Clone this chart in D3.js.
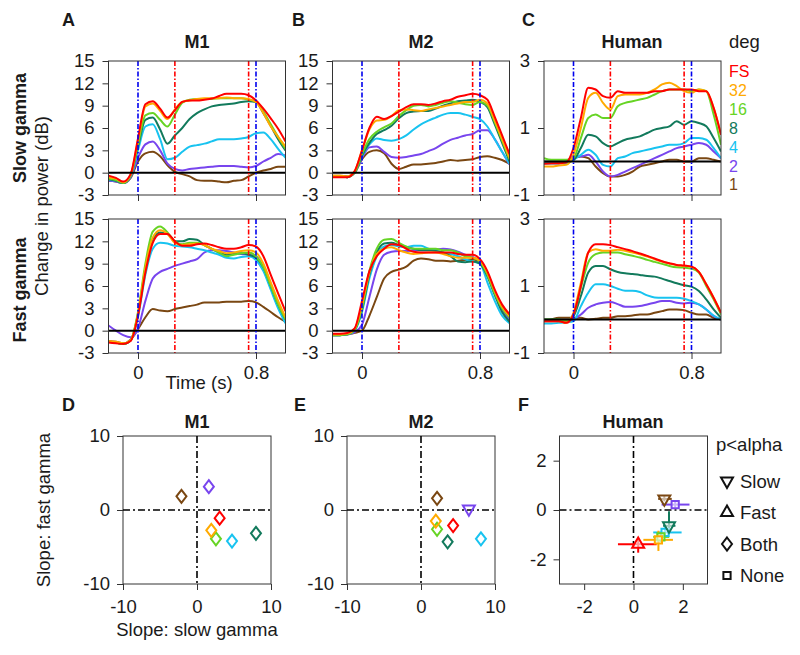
<!DOCTYPE html>
<html>
<head>
<meta charset="utf-8">
<script src="https://cdn.jsdelivr.net/npm/d3@7"></script>
<style>
  body { margin: 0; background: #fff; }
  svg text { font-family: "Liberation Sans", Arial, Helvetica, sans-serif; fill: #1a1a1a; }
</style>
</head>
<body>
<svg id="fig" width="800" height="655"></svg>
<script>
// time base (s) shared by every trace
var time = [-0.2,-0.15,-0.1,-0.05,0,0.05,0.1,0.15,0.2,0.25,0.3,0.35,0.4,0.45,0.5,0.55,0.6,0.65,0.7,0.75,0.8,0.85,0.9,0.95,1.0];

var degLabels = ["FS", "32", "16", "8", "4", "2", "1"];
var degColors = ["#ff0000", "#ffaa00", "#66d424", "#127a5c", "#18c3f0", "#7845ee", "#7a4712"];

// stimulus on/off (blue) and analysis window (red)
var eventTimes = [0, 0.25, 0.75, 0.8];
var eventColors = ["#0000ee", "#ff0000", "#ff0000", "#0000ee"];

var dbTicks = [-3, 0, 3, 6, 9, 12, 15];
var humanTicks = [-1, 1, 3];

// change in power, one row per size (FS,32,16,8,4,2,1)
var m1Slow = [
  [-0.4,-0.7,-1.2,-0.2,4.6,9.2,9.6,8.6,7.4,8.4,9.5,9.7,9.7,9.8,9.95,10.3,10.6,10.6,10.6,10.4,9.7,8.6,7.3,5.9,4.2],
  [-0.6,-0.8,-1.3,-0.3,4.3,8.9,9.3,8.3,7.2,8.5,9.5,9.7,9.9,10.0,10.0,10.0,10.1,10.0,10.0,9.9,9.5,8.0,6.2,4.8,3.5],
  [-0.8,-1.0,-1.4,-0.4,3.8,7.7,8.0,7.1,6.2,7.8,9.4,9.8,9.9,9.9,9.9,10.0,10.0,10.0,10.0,9.8,9.5,8.2,6.5,4.8,3.2],
  [-0.9,-1.1,-1.4,-0.4,3.5,7.1,7.4,5.8,3.9,5.0,6.0,7.2,8.0,8.5,8.9,9.1,9.2,9.3,9.5,9.6,9.5,8.0,6.3,4.5,3.0],
  [-1.0,-1.1,-1.4,-0.5,3.0,6.2,6.5,4.5,1.8,2.0,2.8,3.5,3.7,3.9,4.2,4.5,4.5,4.5,4.6,4.8,5.3,5.4,4.5,3.2,2.0],
  [-1.1,-1.2,-1.4,-0.6,2.0,3.8,4.2,3.0,1.2,0.5,0.3,0.5,0.6,0.7,0.8,0.9,0.9,0.9,0.8,0.7,0.9,1.5,2.0,2.5,2.3],
  [-1.1,-1.2,-1.4,-0.7,1.5,2.6,2.8,2.2,1.0,0.1,-0.2,-0.5,-1.0,-1.1,-1.1,-1.2,-1.3,-1.1,-1.0,-0.5,0.0,0.3,0.5,0.8,0.8]
];
var m1Fast = [
  [-1.6,-1.7,-1.8,-1.4,2.0,7.8,11.8,13.0,13.0,12.0,11.4,11.4,11.6,11.7,11.5,11.2,11.0,11.0,11.2,11.5,11.3,10.0,7.5,5.0,2.6],
  [-1.4,-1.5,-1.7,-1.3,2.3,8.5,12.5,13.5,13.0,11.8,11.5,11.6,11.7,11.5,11.0,10.7,10.4,10.5,10.7,10.8,10.5,9.0,6.5,4.0,1.8],
  [-1.5,-1.6,-1.8,-1.3,2.5,9.0,13.3,14.0,13.2,12.0,11.6,11.8,11.8,11.5,11.0,10.5,10.0,10.2,10.4,10.5,10.0,8.5,6.0,3.5,1.5],
  [-1.5,-1.6,-1.8,-1.3,2.2,8.3,12.3,13.2,13.0,12.0,12.0,12.3,12.2,11.5,11.0,10.5,10.2,10.3,10.4,10.2,9.8,8.5,6.0,3.5,1.5],
  [-1.5,-1.6,-1.8,-1.3,1.8,7.5,11.0,11.8,11.7,11.4,11.3,11.2,11.0,10.8,10.5,10.2,9.8,9.7,9.9,10.0,9.5,8.0,5.5,3.0,1.0],
  [0.7,0.0,-0.6,-0.9,0.3,4.0,7.0,7.9,8.3,8.7,9.0,9.3,9.6,10.5,10.8,10.8,10.7,10.5,10.3,10.2,10.0,8.5,6.0,3.5,1.2],
  [-1.4,-1.5,-1.7,-1.2,0.2,1.8,2.9,2.7,2.6,2.9,3.1,3.3,3.5,3.8,3.8,3.8,3.9,3.9,3.9,4.0,3.8,3.2,2.5,1.8,1.2]
];
var m2Slow = [
  [-0.6,-0.6,-0.6,0.2,3.0,6.0,7.5,7.2,7.6,8.2,8.8,9.2,9.2,9.1,9.3,9.6,9.8,10.2,10.4,10.6,10.4,9.8,7.5,5.0,2.5],
  [-0.4,-0.4,-0.5,0.2,3.0,5.8,7.0,7.1,7.6,8.4,8.5,8.4,8.3,8.5,8.7,8.9,9.1,9.3,9.5,9.5,9.8,9.3,7.0,4.5,2.0],
  [-0.5,-0.5,-0.6,0.0,2.5,4.5,5.5,6.1,6.6,7.6,8.4,9.0,9.1,8.9,9.1,9.4,9.6,9.4,9.2,9.1,9.5,9.0,6.8,4.3,1.8],
  [-0.5,-0.5,-0.6,0.0,2.3,4.0,5.2,5.7,6.3,7.3,8.0,8.2,8.3,8.3,8.6,9.0,9.3,9.6,9.7,9.8,9.5,8.8,6.5,4.0,1.5],
  [-0.5,-0.5,-0.6,0.0,2.2,3.8,4.6,4.4,4.3,4.5,5.0,5.8,6.5,7.0,7.4,7.8,8.0,8.0,7.8,7.5,7.2,6.2,4.5,2.8,1.2],
  [-0.5,-0.5,-0.6,0.0,2.0,3.4,3.5,2.8,2.1,2.0,2.1,2.3,2.5,2.9,3.3,3.9,4.4,4.7,5.0,5.2,5.7,5.7,4.5,2.8,1.1],
  [-0.4,-0.4,-0.5,0.0,1.8,2.8,3.0,2.6,1.2,0.5,0.8,1.1,1.1,1.2,1.3,1.5,1.7,1.6,1.7,1.8,2.1,2.2,2.0,1.7,1.2]
];
var m2Fast = [
  [-0.4,-0.4,-0.3,0.3,4.0,8.0,10.0,11.0,11.6,11.5,11.0,10.6,10.5,10.5,10.5,10.5,10.5,10.3,10.2,10.2,9.6,8.0,5.5,3.5,2.2],
  [-0.5,-0.5,-0.4,0.2,3.5,7.8,10.3,11.0,11.2,10.8,10.5,10.3,10.4,10.5,10.5,10.3,10.0,9.8,9.8,9.8,9.4,7.8,5.3,3.2,2.0],
  [-0.6,-0.6,-0.5,0.1,3.0,8.0,11.0,12.2,12.3,11.8,11.3,11.0,11.0,11.0,11.0,10.8,10.8,10.5,10.0,9.8,9.3,7.5,5.0,3.0,1.8],
  [-0.6,-0.6,-0.5,0.1,2.8,7.5,10.5,11.7,11.8,11.5,11.2,11.0,10.8,10.8,10.7,10.5,10.0,9.3,9.2,9.3,9.0,7.3,4.8,2.5,1.2],
  [-0.6,-0.6,-0.5,0.0,2.5,7.0,10.0,11.3,11.5,11.3,11.2,11.4,11.4,11.0,10.8,10.5,10.3,10.0,9.6,9.3,9.0,6.5,4.0,2.0,1.0],
  [-0.6,-0.6,-0.5,-0.2,0.8,4.5,8.2,10.2,10.6,10.7,10.7,10.8,10.8,10.8,10.9,11.0,10.9,10.6,10.2,9.9,9.3,7.5,5.0,2.8,1.5],
  [-0.5,-0.5,-0.5,-0.3,0.0,2.0,4.5,7.0,7.9,8.2,8.6,9.4,9.7,9.6,9.4,9.4,9.3,9.4,9.5,9.6,9.2,7.5,5.0,3.0,1.5]
];
var humanSlow = [
  [-0.07,-0.05,-0.05,-0.03,0.4,1.3,2.2,2.15,1.95,1.9,2.1,2.05,2.05,2.05,2.05,2.1,2.1,2.15,2.15,2.15,2.15,2.1,2.1,1.6,0.8],
  [-0.15,-0.15,-0.12,-0.1,0.2,1.0,1.9,2.05,1.75,1.55,1.95,2.0,2.0,2.0,2.05,2.15,2.3,2.35,2.25,2.1,2.05,2.15,2.1,1.6,0.8],
  [0.1,0.05,0.05,0.05,0.1,0.7,1.3,1.4,1.3,1.3,1.65,1.75,1.8,1.85,1.9,2.0,2.1,2.15,2.15,2.15,2.1,2.15,2.1,1.4,0.5],
  [0.0,0.0,0.0,0.0,0.05,0.4,0.8,0.75,0.55,0.45,0.55,0.65,0.7,0.75,0.85,0.95,1.0,1.05,1.2,1.1,1.2,1.15,1.05,0.7,0.3],
  [-0.05,-0.05,-0.05,-0.05,0.05,0.2,0.35,0.2,-0.1,-0.15,0.1,0.15,0.25,0.3,0.35,0.4,0.45,0.5,0.5,0.55,0.7,0.7,0.65,0.4,0.1],
  [-0.05,-0.05,-0.05,0.0,0.15,0.15,0.2,0.0,-0.3,-0.45,-0.4,-0.3,-0.2,-0.1,0.0,0.1,0.2,0.3,0.4,0.45,0.5,0.55,0.5,0.3,0.1],
  [-0.05,-0.05,-0.05,0.0,0.1,0.15,0.1,-0.15,-0.35,-0.45,-0.45,-0.4,-0.3,-0.15,-0.1,-0.05,0.0,0.05,0.05,0.0,0.0,0.1,0.1,0.05,0.0]
];
var humanFast = [
  [-0.05,-0.05,-0.05,-0.1,0.15,1.0,2.0,2.25,2.25,2.22,2.16,2.1,2.04,1.97,1.9,1.82,1.74,1.68,1.63,1.61,1.58,1.42,1.05,0.65,0.2],
  [-0.05,-0.05,-0.05,-0.1,0.2,1.1,2.0,2.1,2.05,2.05,2.08,2.05,2.0,1.95,1.88,1.8,1.73,1.67,1.62,1.6,1.57,1.42,1.05,0.65,0.2],
  [0.0,0.0,0.0,-0.05,0.15,0.95,1.7,1.95,2.0,2.0,2.0,1.95,1.9,1.85,1.78,1.72,1.66,1.6,1.56,1.55,1.52,1.4,1.0,0.6,0.15],
  [0.0,0.0,0.0,-0.05,0.1,0.7,1.4,1.6,1.6,1.5,1.42,1.38,1.36,1.33,1.3,1.28,1.22,1.15,1.08,1.02,0.98,0.85,0.6,0.3,0.05],
  [-0.12,-0.12,-0.1,-0.08,-0.05,0.4,0.8,1.05,1.05,1.0,0.92,0.86,0.86,0.82,0.72,0.66,0.65,0.65,0.65,0.62,0.55,0.45,0.3,0.12,0.0],
  [-0.05,-0.05,-0.05,-0.05,0.0,0.15,0.35,0.45,0.5,0.52,0.46,0.38,0.38,0.4,0.45,0.5,0.55,0.55,0.5,0.48,0.5,0.45,0.3,0.1,0.0],
  [-0.05,0.0,0.05,0.05,0.05,0.05,0.0,0.02,0.05,0.05,0.1,0.1,0.12,0.15,0.15,0.2,0.25,0.3,0.3,0.28,0.2,0.15,0.15,0.05,0.0]
];

// slopes (FS,32,16,8,4,2,1)
var m1SlopeSlow = [3.06, 1.93, 2.56, 7.97, 4.73, 1.6, -2.1];
var m1SlopeFast = [-1.1, -2.75, -3.9, -3.15, -4.2, 3.15, 1.85];
var m1Sig = ["both", "both", "both", "both", "both", "both", "both"];
var m2SlopeSlow = [4.34, 2.0, 2.17, 3.6, 8.1, 6.47, 2.17];
var m2SlopeFast = [-2.1, -1.5, -2.6, -4.3, -3.9, 0.15, 1.58];
var m2Sig = ["both", "both", "both", "both", "both", "slow", "both"];
var humanSlopeSlow = [0.19, 1.01, 1.11, 1.44, 1.28, 1.69, 1.25];
var humanSlopeFast = [-1.39, -1.21, -1.09, -0.64, -0.91, 0.22, 0.45];
var humanSig = ["fast", "none", "none", "slow", "none", "none", "slow"];
var humanSlowLo = [-0.63, 0.4, 0.8, 1.2, 0.8, 1.14, 1.0];
var humanSlowHi = [0.94, 1.6, 1.45, 1.7, 1.95, 2.27, 1.55];
var humanFastLo = [-1.73, -1.66, -1.3, -0.8, -1.1, 0.1, 0.35];
var humanFastHi = [-1.17, -0.84, -0.9, -0.05, -0.7, 0.35, 0.6];

var sigKeys = ["slow", "fast", "both", "none"];
var sigNames = ["Slow", "Fast", "Both", "None"];

var svg = d3.select("#fig");
var clipCount = 0;
var fontSize = 18.5;

function numFmt(d) { return String(d); }

function styleAxis(ax) {
  ax.select(".domain").remove();
  ax.selectAll(".tick line").attr("stroke", "#333").attr("stroke-width", 1);
  ax.selectAll(".tick text").style("font-size", fontSize + "px").attr("fill", "#1a1a1a");
}

function timePanel(left, top, yDomain, yTicks, series, showX) {
  var w = 177, h = 134;
  var x = d3.scaleLinear().domain([-0.2, 1.0]).range([left, left + w]);
  var y = d3.scaleLinear().domain(yDomain).range([top + h, top]);
  var clipId = "clip" + (clipCount++);
  svg.append("clipPath").attr("id", clipId)
    .append("rect").attr("x", left).attr("y", top).attr("width", w).attr("height", h);

  var ya = svg.append("g").attr("transform", "translate(" + left + ",0)")
    .call(d3.axisLeft(y).tickValues(yTicks).tickSize(6).tickPadding(8).tickFormat(numFmt));
  styleAxis(ya);
  var xa = svg.append("g").attr("transform", "translate(0," + (top + h) + ")")
    .call(d3.axisBottom(x).tickValues([0, 0.8]).tickSize(6).tickPadding(7)
      .tickFormat(showX ? numFmt : function() { return ""; }));
  styleAxis(xa);

  var line = d3.line()
    .x(function(d, i) { return x(time[i]); })
    .y(function(d) { return y(d); })
    .curve(d3.curveMonotoneX);

  var plot = svg.append("g").attr("clip-path", "url(#" + clipId + ")");
  plot.selectAll("path.trace")
    .data([6, 5, 4, 3, 2, 1, 0])
    .enter().append("path")
    .attr("class", "trace")
    .attr("d", function(k) { return line(series[k]); })
    .attr("fill", "none")
    .attr("stroke", function(k) { return degColors[k]; })
    .attr("stroke-width", 2);

  plot.append("line")
    .attr("x1", left).attr("x2", left + w)
    .attr("y1", y(0)).attr("y2", y(0))
    .attr("stroke", "#000").attr("stroke-width", 2);

  plot.selectAll("line.ev")
    .data(eventTimes)
    .enter().append("line")
    .attr("class", "ev")
    .attr("x1", function(d) { return x(d); }).attr("x2", function(d) { return x(d); })
    .attr("y1", top).attr("y2", top + h)
    .attr("stroke", function(d, i) { return eventColors[i]; })
    .attr("stroke-width", 1.6)
    .attr("stroke-dasharray", "5,2,1.5,2");

  svg.append("rect")
    .attr("x", left).attr("y", top).attr("width", w).attr("height", h)
    .attr("fill", "none").attr("stroke", "#333").attr("stroke-width", 1);
}

// marker shapes
var diamond = {
  draw: function(ctx, size) {
    var r = Math.sqrt(size) / 2;
    ctx.moveTo(0, -r * 1.3);
    ctx.lineTo(r, 0);
    ctx.lineTo(0, r * 1.3);
    ctx.lineTo(-r, 0);
    ctx.closePath();
  }
};
function markerPath(kind) {
  if (kind === "both") return d3.symbol().type(diamond).size(100)();
  if (kind === "none") return d3.symbol().type(d3.symbolSquare).size(52)();
  return d3.symbol().type(d3.symbolTriangle).size(62)();
}
function markerRot(kind) { return kind === "slow" ? " rotate(180)" : ""; }

function slopePanel(left, top, lim, ticks, sx, sy, sig, errs) {
  var s = 148;
  var x = d3.scaleLinear().domain([-lim, lim]).range([left, left + s]);
  var y = d3.scaleLinear().domain([-lim, lim]).range([top + s, top]);

  var ya = svg.append("g").attr("transform", "translate(" + left + ",0)")
    .call(d3.axisLeft(y).tickValues(ticks).tickSize(6).tickPadding(7).tickFormat(numFmt));
  styleAxis(ya);
  var xa = svg.append("g").attr("transform", "translate(0," + (top + s) + ")")
    .call(d3.axisBottom(x).tickValues(ticks).tickSize(6).tickPadding(10).tickFormat(numFmt));
  styleAxis(xa);

  svg.append("rect")
    .attr("x", left).attr("y", top).attr("width", s).attr("height", s)
    .attr("fill", "none").attr("stroke", "#333").attr("stroke-width", 1);

  svg.append("line")
    .attr("x1", left).attr("x2", left + s).attr("y1", y(0)).attr("y2", y(0))
    .attr("stroke", "#000").attr("stroke-width", 1.6).attr("stroke-dasharray", "7,3,2,3");
  svg.append("line")
    .attr("x1", x(0)).attr("x2", x(0)).attr("y1", top).attr("y2", top + s)
    .attr("stroke", "#000").attr("stroke-width", 1.6).attr("stroke-dasharray", "7,3,2,3");

  var idx = [6, 5, 4, 3, 2, 1, 0];
  if (errs) {
    var eg = svg.append("g");
    eg.selectAll("line.h").data(idx).enter().append("line").attr("class", "h")
      .attr("x1", function(k) { return x(errs[0][k]); })
      .attr("x2", function(k) { return x(errs[1][k]); })
      .attr("y1", function(k) { return y(sy[k]); })
      .attr("y2", function(k) { return y(sy[k]); })
      .attr("stroke", function(k) { return degColors[k]; }).attr("stroke-width", 2);
    eg.selectAll("line.v").data(idx).enter().append("line").attr("class", "v")
      .attr("x1", function(k) { return x(sx[k]); })
      .attr("x2", function(k) { return x(sx[k]); })
      .attr("y1", function(k) { return y(errs[2][k]); })
      .attr("y2", function(k) { return y(errs[3][k]); })
      .attr("stroke", function(k) { return degColors[k]; }).attr("stroke-width", 2);
  }

  svg.append("g").selectAll("path").data(idx).enter().append("path")
    .attr("d", function(k) { return markerPath(sig[k]); })
    .attr("transform", function(k) {
      return "translate(" + x(sx[k]) + "," + y(sy[k]) + ")" + markerRot(sig[k]);
    })
    .attr("fill", errs ? "#fff" : "none")
    .attr("fill-opacity", errs ? 0.6 : 0)
    .attr("stroke", function(k) { return degColors[k]; })
    .attr("stroke-width", 2);
}

// ---- top panels ----
var colLeft = [108.5, 332.5, 544];
timePanel(colLeft[0], 61, [-3, 15], dbTicks, m1Slow, false);
timePanel(colLeft[1], 61, [-3, 15], dbTicks, m2Slow, false);
timePanel(colLeft[2], 61, [-1, 3], humanTicks, humanSlow, false);
timePanel(colLeft[0], 219, [-3, 15], dbTicks, m1Fast, true);
timePanel(colLeft[1], 219, [-3, 15], dbTicks, m2Fast, true);
timePanel(colLeft[2], 219, [-1, 3], humanTicks, humanFast, true);

// ---- slope panels ----
slopePanel(123, 436, 10, [-10, 0, 10], m1SlopeSlow, m1SlopeFast, m1Sig, null);
slopePanel(347, 436, 10, [-10, 0, 10], m2SlopeSlow, m2SlopeFast, m2Sig, null);
slopePanel(559.5, 436, 3, [-2, 0, 2], humanSlopeSlow, humanSlopeFast, humanSig,
  [humanSlowLo, humanSlowHi, humanFastLo, humanFastHi]);

// ---- text ----
function label(txt, x, y, opts) {
  opts = opts || {};
  var t = svg.append("text").attr("x", x).attr("y", y).text(txt)
    .style("font-size", (opts.size || fontSize) + "px")
    .attr("text-anchor", opts.anchor || "middle");
  if (opts.bold) t.style("font-weight", "bold");
  if (opts.rotate) t.attr("transform", "rotate(-90," + x + "," + y + ")");
  if (opts.fill) t.style("fill", opts.fill);
  return t;
}

[["A", 62, 26], ["B", 292, 26], ["C", 522, 26], ["D", 62, 411], ["E", 294, 411], ["F", 518, 411]]
  .forEach(function(p) { label(p[0], p[1], p[2], { bold: true, anchor: "start", size: 18 }); });

label("M1", 197, 48, { bold: true, size: 18 });
label("M2", 421, 48, { bold: true, size: 18 });
label("Human", 632, 48, { bold: true, size: 18 });
label("M1", 197, 428, { bold: true, size: 18 });
label("M2", 421, 428, { bold: true, size: 18 });
label("Human", 633, 428, { bold: true, size: 18 });

label("Slow gamma", 26, 128, { bold: true, rotate: true, size: 18 });
label("Fast gamma", 26, 290, { bold: true, rotate: true, size: 18 });
label("Change in power (dB)", 48, 206, { rotate: true });
label("Time (s)", 199, 389);

label("Slope: fast gamma", 50, 510, { rotate: true });
label("Slope: slow gamma", 197, 636);

label("deg", 729, 48, { anchor: "start" });
degLabels.forEach(function(d, i) {
  label(d, 729, 77 + i * 18.9, { anchor: "start", fill: degColors[i], size: 16 });
});

label("p<alpha", 716, 451, { anchor: "start" });
var lg = svg.append("g");
sigKeys.forEach(function(k, i) {
  var cy = 481 + i * 31.5;
  lg.append("path")
    .attr("d", markerPath(k))
    .attr("transform", "translate(727," + cy + ")" + markerRot(k))
    .attr("fill", "none").attr("stroke", "#111").attr("stroke-width", 2);
  label(sigNames[i], 740, cy + 6.5, { anchor: "start" });
});
</script>
</body>
</html>
